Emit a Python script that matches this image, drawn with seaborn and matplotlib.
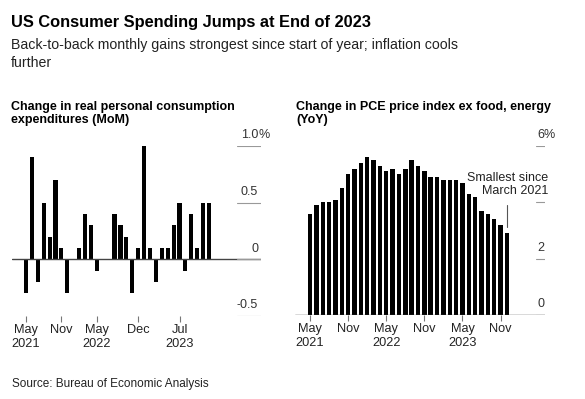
import pandas as pd
import seaborn as sns
import matplotlib.pyplot as plt

# monthly values, May 2021 - Dec 2023
months = pd.date_range('2021-05-01', '2023-12-01', freq='MS').strftime('%Y-%m')
real_pce_mom = [-0.3, 0.9, -0.2, 0.5, 0.2, 0.7, 0.1, -0.3, 0.0, 0.1, 0.4, 0.3,
                -0.1, 0.0, 0.0, 0.4, 0.3, 0.2, -0.3, 0.1, 1.0, 0.1, -0.2, 0.1,
                0.1, 0.3, 0.5, -0.1, 0.4, 0.1, 0.5, 0.5]
core_pce_yoy = [3.6, 3.9, 4.0, 4.0, 4.1, 4.5, 5.0, 5.2, 5.4, 5.6, 5.5, 5.3,
                5.1, 5.2, 5.0, 5.2, 5.5, 5.3, 5.1, 4.9, 4.9, 4.8, 4.8, 4.8,
                4.7, 4.3, 4.2, 3.7, 3.6, 3.4, 3.2, 2.9]

left_tick_months = ['2021-05', '2021-11', '2022-05', '2022-12', '2023-07']
left_tick_labels = ['May\n2021', 'Nov', 'May\n2022', 'Dec', 'Jul\n2023']
right_tick_months = ['2021-05', '2021-11', '2022-05', '2022-11', '2023-05', '2023-11']
right_tick_labels = ['May\n2021', 'Nov', 'May\n2022', 'Nov', 'May\n2023', 'Nov']

left_yticks = [1.0, 0.5, 0, -0.5]
left_ylabels = ['1.0', '0.5', '0', '-0.5']
right_yticks = [6, 4, 2, 0]
right_ylabels = ['6', '', '2', '0']  # the "4" sits under the annotation

df = pd.DataFrame({'month': months, 'mom': real_pce_mom, 'yoy': core_pce_yoy})

sns.set_theme(style='white')
plt.rcParams['font.family'] = ['Liberation Sans', 'DejaVu Sans']

W, H = 585, 399
fig = plt.figure(figsize=(W / 100, H / 100), dpi=100)


def px(x, y):
    return x / W, 1 - y / H


ax1 = fig.add_axes([12 / W, (H - 316) / H, 249 / W, 170 / H])
ax2 = fig.add_axes([295 / W, (H - 315) / H, 250 / W, 169 / H])

sns.barplot(data=df, x='month', y='mom', color='black', saturation=1,
            width=0.7, errorbar=None, linewidth=0, ax=ax1)
sns.barplot(data=df, x='month', y='yoy', color='black', saturation=1,
            width=0.7, errorbar=None, linewidth=0, ax=ax2)

ax1.set_xlim(-2.37, 39.8)
ax1.set_ylim(-0.5, 1.0)
ax2.set_xlim(-2.37, 37.0)
ax2.set_ylim(0, 6)

month_list = list(df['month'])
for ax, tm, tl in [(ax1, left_tick_months, left_tick_labels),
                   (ax2, right_tick_months, right_tick_labels)]:
    for s in ax.spines.values():
        s.set_visible(False)
    ax.set_xlabel('')
    ax.set_ylabel('')
    ax.set_yticks([])
    ax.set_xticks([month_list.index(m) for m in tm], tl)
    ax.tick_params(axis='x', bottom=True, direction='out', length=4, width=0.8,
                   color='#777', pad=2, labelsize=9.2, labelcolor='#222')
    ax.axhline(0, color='#444', lw=1, zorder=3)

# y labels, Bloomberg style: short rule with the number above it
for v, lab in zip(left_yticks, left_ylabels):
    ax1.axhline(v, xmin=0.904, xmax=1.0, color='#999', lw=0.8, zorder=4)
    ax1.annotate(lab, xy=(0.988, v), xycoords=('axes fraction', 'data'),
                 xytext=(0, 5.5), textcoords='offset points', ha='right',
                 va='baseline', fontsize=9, color='#333')
ax1.annotate('%', xy=(0.988, left_yticks[0]), xycoords=('axes fraction', 'data'),
             xytext=(0, 5.5), textcoords='offset points', ha='left',
             va='baseline', fontsize=9, color='#333')

for v, lab in zip(right_yticks, right_ylabels):
    ax2.axhline(v, xmin=0.964, xmax=1.0, color='#999', lw=0.8, zorder=4)
    if lab:
        ax2.annotate(lab, xy=(0.996, v), xycoords=('axes fraction', 'data'),
                     xytext=(0, 5.5), textcoords='offset points', ha='right',
                     va='baseline', fontsize=9, color='#333')
ax2.annotate('%', xy=(0.996, right_yticks[0]), xycoords=('axes fraction', 'data'),
             xytext=(0, 5.5), textcoords='offset points', ha='left',
             va='baseline', fontsize=9, color='#333')

# annotation on the latest bar
last = len(core_pce_yoy) - 1
ax2.plot([last, last], [core_pce_yoy[-1] + 0.22, core_pce_yoy[-1] + 1.0],
         color='#555', lw=0.8)
for txt, yv in [('Smallest since', 4.757), ('March 2021', 4.296)]:
    ax2.text(1.012, yv, txt, transform=ax2.get_yaxis_transform(), ha='right',
             va='baseline', fontsize=9, color='#222', zorder=5)

# titles
fig.text(*px(11, 27), 'US Consumer Spending Jumps at End of 2023',
         fontsize=11.8, fontweight='bold', color='black')
fig.text(*px(11, 49), 'Back-to-back monthly gains strongest since start of year; inflation cools',
         fontsize=10.2, color='#222')
fig.text(*px(11, 67), 'further', fontsize=10.2, color='#222')

fig.text(*px(11, 110), 'Change in real personal consumption',
         fontsize=9, fontweight='bold', color='black')
fig.text(*px(11, 123), 'expenditures (MoM)',
         fontsize=9, fontweight='bold', color='black')
fig.text(*px(296, 110), 'Change in PCE price index ex food, energy',
         fontsize=9, fontweight='bold', color='black')
fig.text(*px(296, 123), '(YoY)', fontsize=9, fontweight='bold', color='black')

fig.text(*px(12, 387), 'Source: Bureau of Economic Analysis',
         fontsize=8.5, color='#222')

fig.savefig('out.png', dpi=100, facecolor='white')
